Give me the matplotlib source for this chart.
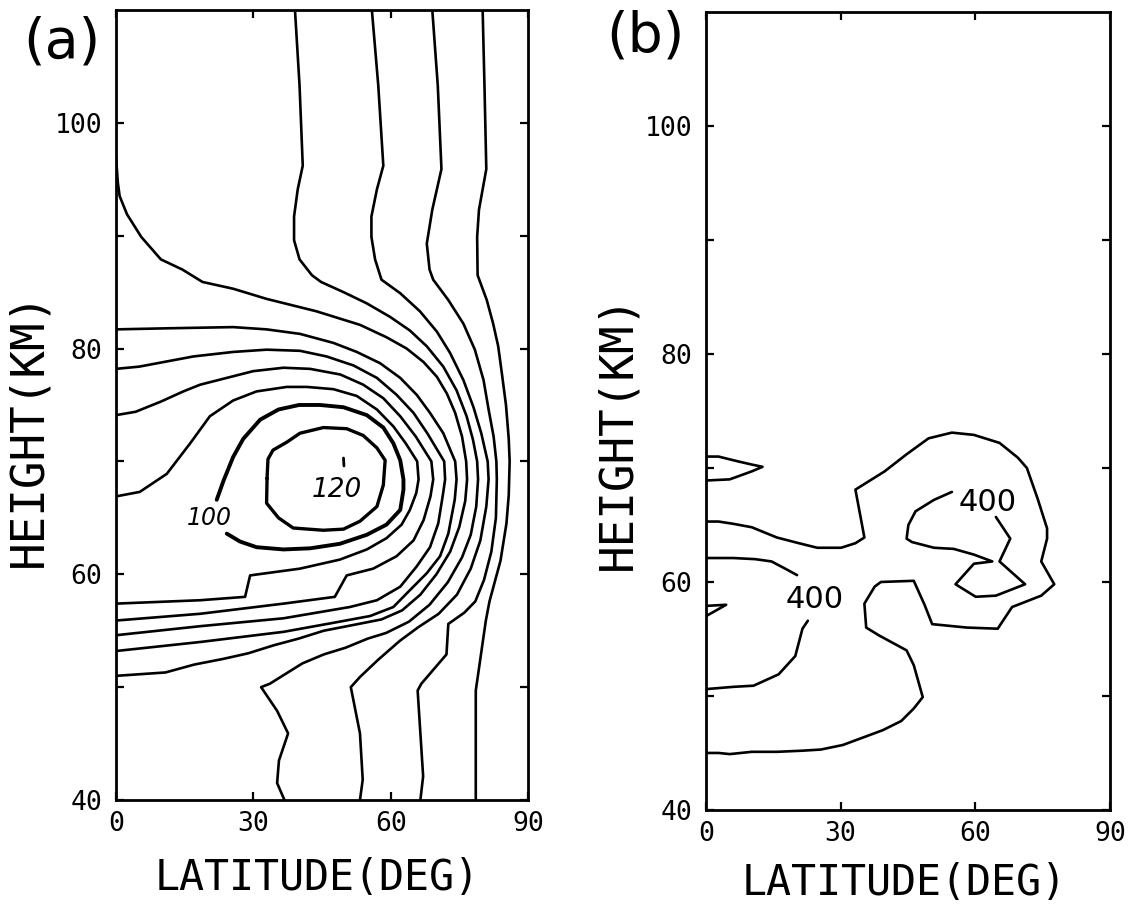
import matplotlib
matplotlib.use("Agg")
import matplotlib.pyplot as plt

# ---------------- data: (latitude deg, height km) ----------------
# panel (a) contours
a_c120 = [(33.0, 68.5), (33.2, 70.2), (34.3, 71.0), (37.3, 71.7), (40.2, 72.5), (45.3, 73.0),
          (50.4, 72.9), (54.0, 72.3), (57.0, 71.2), (58.8, 70.1), (58.4, 67.9), (57.0, 66.0),
          (53.3, 64.7), (49.7, 64.0), (45.3, 63.9), (38.7, 64.1), (35.5, 65.0), (32.9, 66.3), (33.0, 68.5)]
a_c100 = [(22.0, 66.6), (23.5, 68.3), (25.6, 70.4), (27.8, 72.0), (31.5, 73.7), (35.5, 74.6), (40.0, 75.0),
          (44.6, 75.0), (49.7, 74.8), (54.8, 74.1), (58.4, 73.0), (60.6, 71.6), (62.1, 70.1), (62.8, 68.4),
          (62.8, 67.5), (62.1, 65.7), (59.1, 64.4), (54.8, 63.5), (48.9, 62.7), (42.4, 62.3), (36.6, 62.2),
          (30.7, 62.4), (27.1, 62.9), (24.2, 63.6)]
a_c80 = [(0, 66.9), (5.2, 67.3), (11.1, 68.9), (16.2, 71.6), (20.5, 74.0), (25.6, 75.4), (30.7, 76.2),
         (37.3, 76.6), (41.7, 76.6), (47.5, 76.4), (52.6, 75.8), (57.0, 74.6), (60.6, 73.1), (63.3, 71.6),
         (65.8, 70.0), (66.1, 68.4), (65.6, 67.2), (64.2, 65.7), (62.4, 64.4), (59.1, 63.2), (54.8, 62.2),
         (48.9, 61.3), (40.2, 60.5), (29.3, 59.9), (28.2, 58.0), (18.4, 57.7), (0, 57.4)]
a_c60 = [(0, 74.1), (4.3, 74.4), (9.8, 75.3), (14.7, 76.2), (18.4, 76.8), (24.2, 77.4), (30.0, 78.0),
         (36.6, 78.3), (42.4, 78.2), (49.0, 77.7), (54.0, 76.8), (58.4, 75.6), (62.1, 74.0), (65.5, 72.2),
         (68.9, 70.0), (69.3, 68.4), (68.7, 66.9), (67.2, 64.8), (65.0, 63.0), (61.3, 61.6), (56.2, 60.5),
         (50.4, 59.9), (47.8, 58.0), (36.6, 57.4), (18.4, 56.5), (0, 55.9)]
a_c40 = [(0, 78.2), (5.1, 78.4), (16.9, 79.3), (25.6, 79.7), (32.9, 79.9), (40.2, 79.8), (46.0, 79.3),
         (51.9, 78.5), (57.0, 77.4), (61.3, 75.9), (65.0, 74.3), (68.0, 72.5), (71.7, 70.0), (71.9, 68.4),
         (71.4, 67.0), (70.4, 64.5), (68.6, 62.4), (65.7, 60.7), (62.1, 58.9), (57.0, 57.7), (51.1, 57.1),
         (36.6, 56.1), (18.4, 55.4), (0, 54.6)]
a_c20 = [(0, 81.7), (12.0, 81.8), (25.6, 81.9), (32.9, 81.7), (40.2, 81.3), (47.5, 80.5), (52.6, 79.7),
         (57.7, 78.7), (62.1, 77.4), (65.7, 75.9), (68.6, 74.3), (71.5, 72.5), (74.1, 70.0), (74.4, 68.4),
         (74.0, 66.6), (72.6, 63.6), (70.8, 61.6), (67.9, 60.1), (63.5, 58.3), (60.6, 57.1), (55.5, 56.3),
         (47.5, 55.7), (36.6, 54.9), (18.4, 54.0), (0, 53.2)]
a_c0 = [(0, 97.0), (0.4, 94.7), (0.8, 93.5), (2.4, 91.9), (5.5, 89.9), (9.8, 87.9), (14.5, 87.0),
        (18.9, 85.9), (25.6, 85.3), (32.9, 84.4), (43.8, 83.3), (53.3, 82.1), (59.1, 81.0), (63.5, 80.0),
        (67.2, 78.8), (70.1, 77.5), (72.3, 76.0), (74.1, 74.3), (75.6, 72.2), (76.5, 70.0), (76.7, 68.4),
        (76.3, 66.5), (75.0, 64.2), (73.0, 62.0), (70.0, 60.0), (66.5, 58.2), (62.5, 56.8), (58.0, 56.0),
        (53.0, 55.6), (45.4, 55.0), (39.9, 54.3), (34.4, 53.7), (28.9, 53.0), (23.4, 52.5), (17.1, 52.0),
        (10.8, 51.3), (0, 51.0)]
a_cm20 = [(39.1, 110), (40.1, 103.3), (40.8, 96.2), (39.7, 94.1), (38.9, 91.7), (38.9, 89.6), (40.1, 87.9),
          (42.8, 86.5), (44.8, 85.9), (49.7, 85.0), (54.8, 84.0), (59.9, 82.8), (64.2, 81.6), (67.9, 80.2),
          (71.5, 78.4), (74.4, 76.3), (76.6, 74.0), (78.0, 71.9), (78.9, 70.0), (79.1, 68.4), (78.7, 66.0),
          (77.5, 63.5), (75.6, 61.5), (72.5, 59.3), (68.5, 57.3), (64.0, 55.8), (59.0, 54.8), (55.0, 54.3),
          (50.2, 53.5), (45.4, 52.9), (40.7, 52.1), (33.6, 50.3), (31.7, 50.0), (35.2, 47.9), (37.6, 45.9),
          (35.6, 43.5), (35.2, 41.5), (36.8, 40)]
a_cm40 = [(55.9, 110), (57.3, 103.3), (58.4, 96.2), (57.0, 94.1), (55.8, 91.7), (55.8, 89.9), (56.6, 87.9),
          (58.0, 86.1), (62.1, 84.9), (66.4, 83.3), (70.1, 81.5), (73.0, 79.6), (75.9, 77.2), (78.1, 74.8),
          (79.8, 72.5), (81.2, 70.0), (81.4, 68.4), (80.9, 66.0), (79.6, 63.0), (77.5, 60.5), (74.5, 58.2),
          (70.5, 56.5), (66.0, 55.3), (62.0, 54.1), (57.2, 52.4), (53.3, 50.9), (51.3, 50.0), (53.3, 45.9),
          (53.9, 41.8), (53.3, 40)]
a_cm60 = [(69.1, 110), (70.3, 103.3), (71.1, 95.9), (69.1, 92.3), (67.9, 89.3), (68.5, 87.0), (69.3, 86.1),
          (72.6, 84.3), (75.9, 82.2), (78.4, 79.9), (80.3, 77.2), (81.4, 74.6), (82.5, 72.2), (83.1, 70.0),
          (83.2, 68.4), (83.0, 65.0), (82.0, 62.0), (80.4, 59.5), (78.5, 57.6), (76.1, 56.6), (72.6, 55.6),
          (72.2, 52.9), (66.7, 50.3), (65.9, 49.7), (67.1, 42.1), (66.5, 40)]
a_cm80 = [(80.1, 110), (80.5, 103.3), (80.9, 95.9), (79.3, 92.3), (78.9, 89.9), (79.0, 86.5), (81.0, 84.3),
          (82.4, 82.2), (83.5, 80.2), (84.3, 77.8), (85.2, 75.0), (85.8, 72.0), (86.0, 70.0), (85.8, 67.0),
          (85.3, 64.5), (84.0, 61.2), (81.6, 57.6), (80.8, 55.9), (78.6, 49.7), (78.6, 40)]
a_marker = [(49.7, 70.3), (49.8, 69.6)]
a_labels = ["100", "120"]
a_label_pos = [(20.4, 65.0), (48.2, 67.5)]

# panel (b) contours
b_tongue_top = [(0, 71.0), (2.8, 71.0), (6.9, 70.6), (10.2, 70.3), (12.6, 70.1), (10.2, 69.7), (5.3, 69.0), (0, 68.9)]
b_tongue_low = [(0, 57.9), (4.5, 58.0), (0, 57.0)]
b_outer = [(0, 45.0), (2.8, 45.0), (5.3, 44.9), (10.2, 45.1), (15.8, 45.1), (21.5, 45.2), (25.6, 45.3),
           (30.5, 45.7), (35.3, 46.4), (39.4, 47.0), (43.5, 47.8), (46.3, 48.9), (48.3, 49.9), (46.3, 52.7),
           (44.7, 54.0), (38.6, 55.3), (35.7, 56.0), (35.3, 58.1), (37.6, 59.6), (39.0, 60.0), (46.3, 60.1),
           (48.7, 58.0), (50.4, 56.3), (58.1, 56.0), (65.0, 55.9), (68.2, 57.8), (74.7, 58.8), (77.6, 59.8),
           (74.7, 61.8), (76.0, 63.8), (76.0, 64.7), (73.9, 67.3), (71.5, 70.0), (69.5, 70.9), (65.4, 72.2),
           (59.7, 72.9), (54.8, 73.1), (49.6, 72.6), (44.7, 71.2), (39.8, 69.7), (33.3, 68.1), (35.3, 63.9),
           (33.3, 63.4), (30.1, 63.0), (24.8, 63.0), (20.7, 63.4), (15.8, 63.9), (10.2, 64.8), (6.1, 65.1),
           (2.8, 65.3), (0, 65.3)]
b_left400_upper = [(0, 62.1), (6.1, 62.1), (11.0, 62.0), (14.6, 61.8), (17.5, 61.2), (20.3, 60.6)]
b_left400_lower = [(22.7, 56.6), (21.5, 55.9), (20.7, 54.7), (19.9, 53.5), (16.2, 51.9), (10.6, 50.9),
                   (6.1, 50.8), (0, 50.6)]
b_right400 = [(54.8, 67.9), (50.8, 67.2), (46.7, 66.2), (45.1, 65.0), (44.7, 63.8), (45.9, 63.5), (50.8, 63.0),
              (55.2, 62.9), (59.7, 62.4), (63.8, 61.8), (59.7, 61.6), (55.6, 59.8), (60.1, 58.7), (64.6, 58.8),
              (71.1, 59.8), (65.4, 61.8), (67.8, 63.8), (64.6, 65.7)]
b_labels = ["400", "400"]
b_label_pos = [(24.1, 58.5), (62.8, 67.0)]

x_ticks = [0, 30, 60, 90]
y_major = [40, 60, 80, 100]
y_minor = [50, 70, 90]
xlabel = "LATITUDE(DEG)"
ylabel = "HEIGHT(KM)"
panel_tags = ["(a)", "(b)"]

# ---------------- drawing ----------------
fig = plt.figure(figsize=(11.44, 9.06), dpi=100)
ax_a = fig.add_axes([0.1014, 0.1170, 0.3601, 0.8720])
ax_b = fig.add_axes([0.6171, 0.1060, 0.3531, 0.8808])

mono = "DejaVu Sans Mono"


def draw(ax, pts, lw=1.9):
    xs = [p[0] for p in pts]
    ys = [p[1] for p in pts]
    ax.plot(xs, ys, color="black", lw=lw, solid_joinstyle="round", solid_capstyle="round")


def style(ax):
    ax.set_xlim(0, 90)
    ax.set_ylim(40, 110)
    ax.set_xticks(x_ticks)
    ax.set_xticklabels([str(t) for t in x_ticks], fontfamily=mono, fontsize=19)
    ax.set_yticks(y_major)
    ax.set_yticklabels([str(t) for t in y_major], fontfamily=mono, fontsize=19)
    ax.set_yticks(y_minor, minor=True)
    ax.tick_params(which="both", direction="in", top=True, right=True, length=6, width=1.6)
    ax.tick_params(axis="x", which="both", pad=8)
    ax.tick_params(axis="y", which="both", pad=10)
    for s in ax.spines.values():
        s.set_linewidth(2.0)


for c in [a_c0, a_c20, a_c40, a_c60, a_c80, a_cm20, a_cm40, a_cm60, a_cm80]:
    draw(ax_a, c)
draw(ax_a, a_c100, 2.8)
draw(ax_a, a_c120, 2.4)
draw(ax_a, a_marker, 2.0)
ax_a.text(*a_label_pos[0], a_labels[0], fontsize=17, style="italic", ha="center", va="center")
ax_a.text(*a_label_pos[1], a_labels[1], fontsize=19, style="italic", ha="center", va="center")
style(ax_a)

for c in [b_tongue_top, b_tongue_low, b_outer, b_left400_upper, b_left400_lower, b_right400]:
    draw(ax_b, c)
for t, p in zip(b_labels, b_label_pos):
    ax_b.text(p[0], p[1], t, fontsize=22, ha="center", va="center")
style(ax_b)

fig.text(0.2771, 0.0309, xlabel, fontfamily=mono, fontsize=30, ha="center", va="center")
fig.text(0.7900, 0.0254, xlabel, fontfamily=mono, fontsize=30, ha="center", va="center")
fig.text(0.0250, 0.527, ylabel, fontfamily=mono, fontsize=33, rotation=90, ha="center", va="center")
fig.text(0.5400, 0.523, ylabel, fontfamily=mono, fontsize=33, rotation=90, ha="center", va="center")
fig.text(0.0545, 0.9530, panel_tags[0], fontsize=40, ha="center", va="center")
fig.text(0.5640, 0.9595, panel_tags[1], fontsize=40, ha="center", va="center")

fig.savefig("out.png", dpi=100)
